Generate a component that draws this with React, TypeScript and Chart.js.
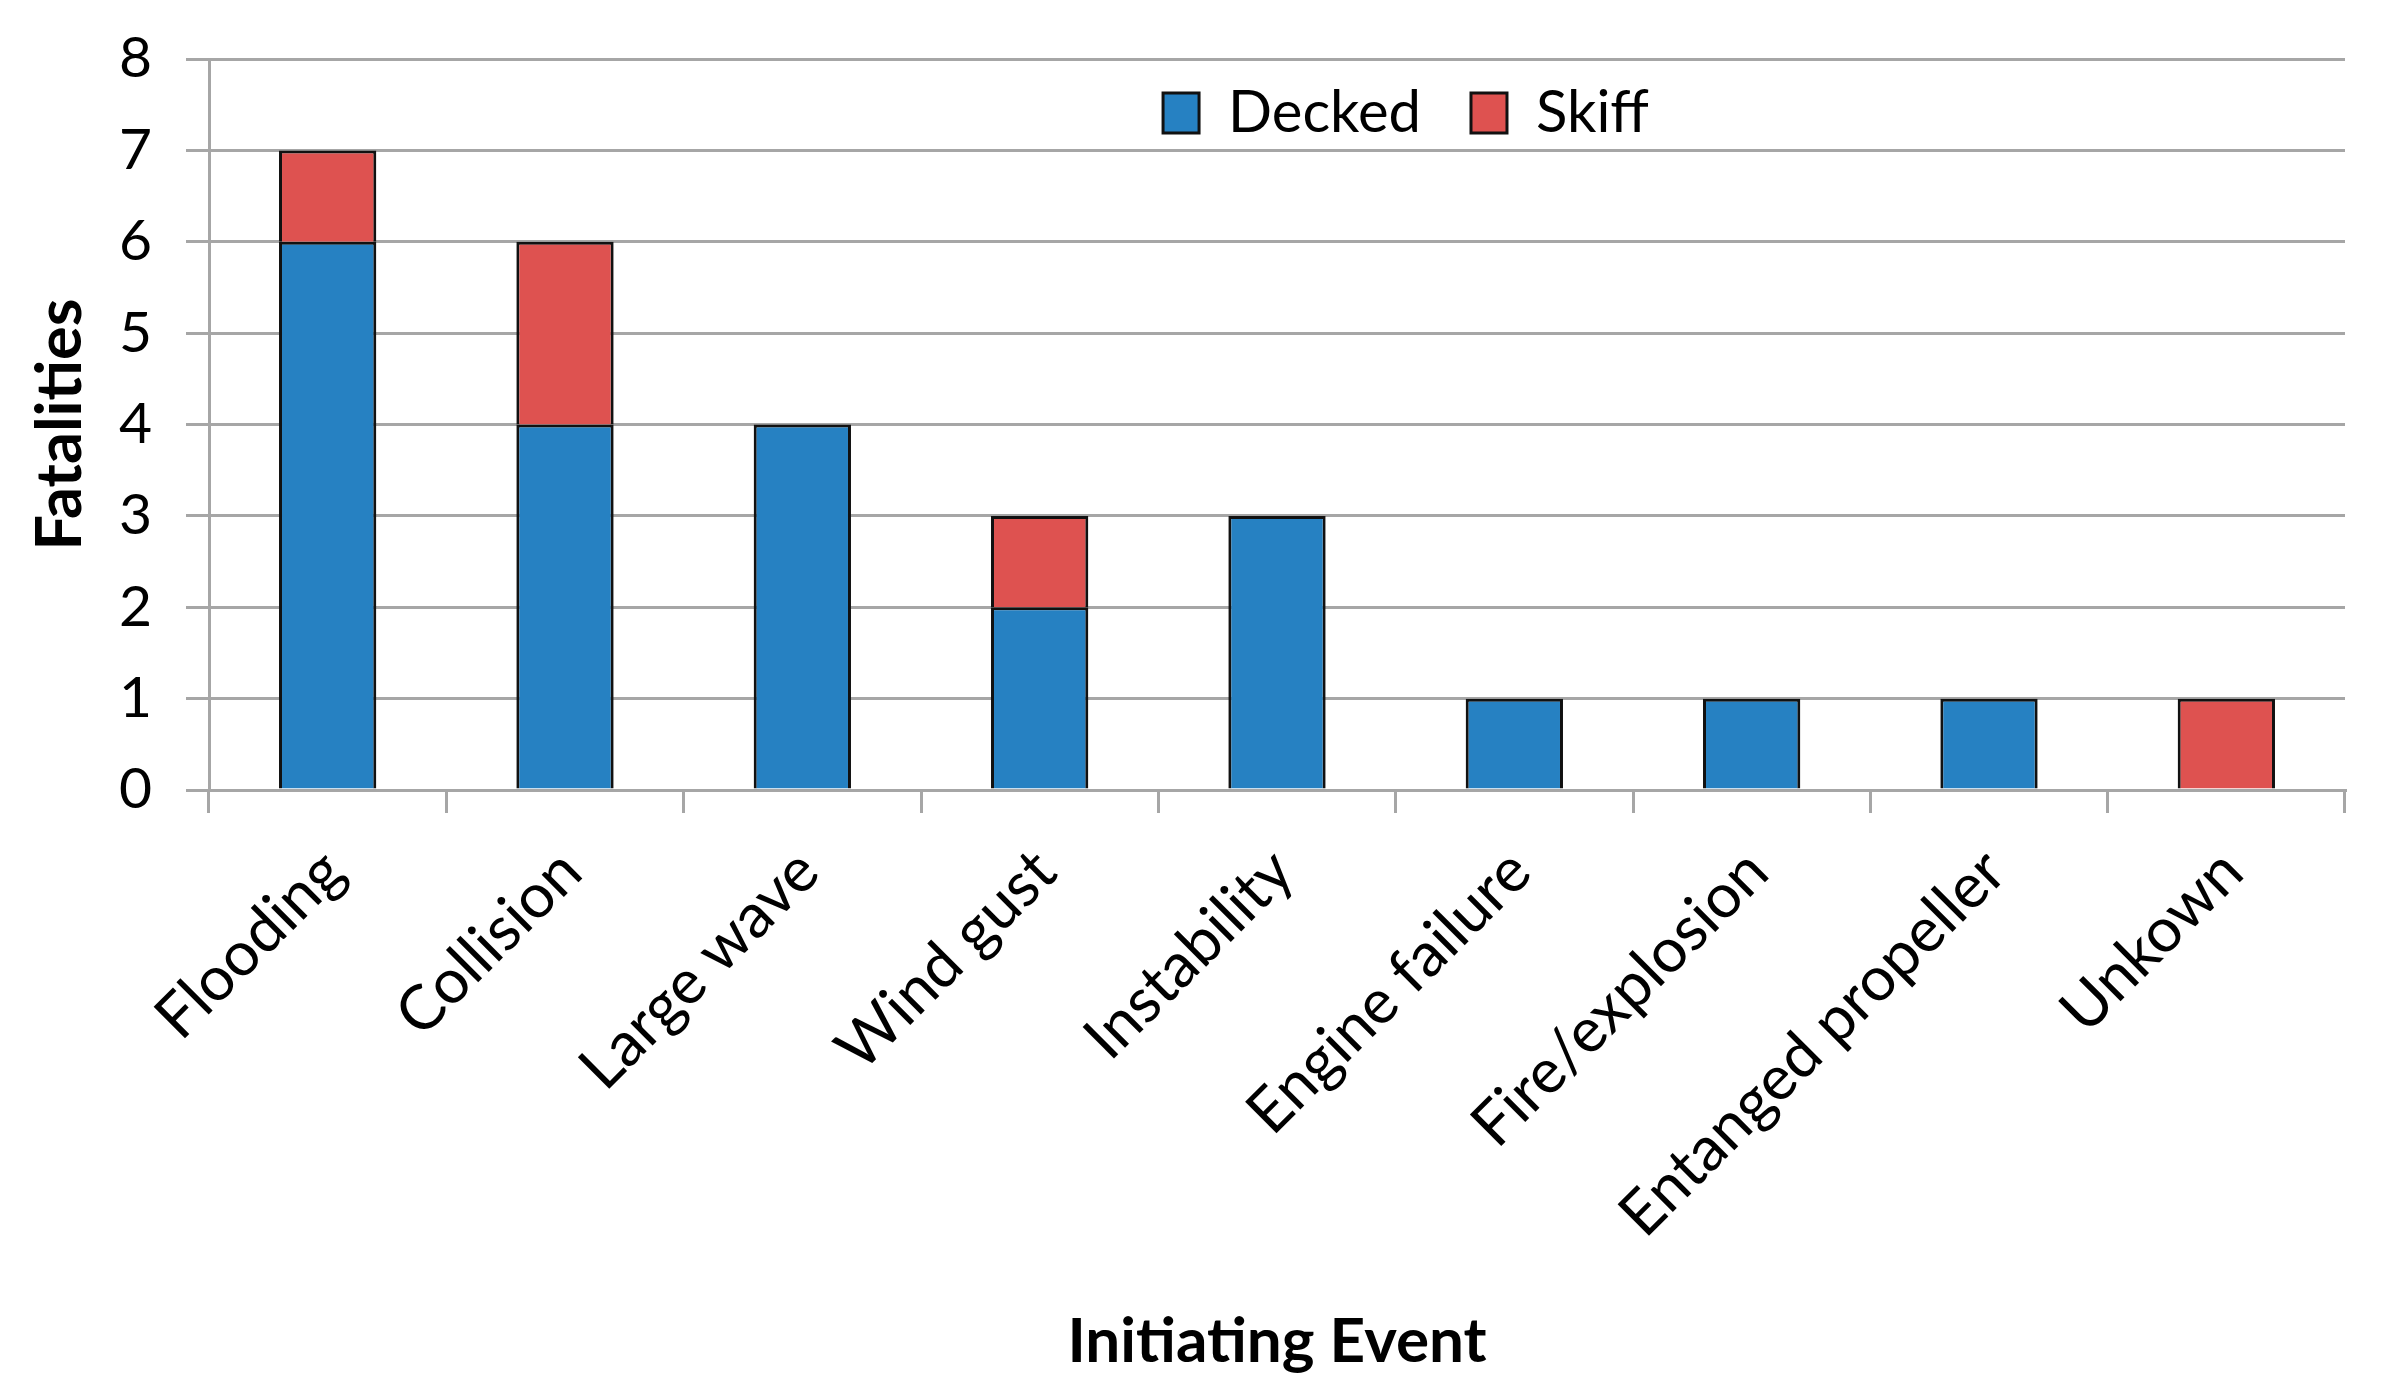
import React, { useEffect, useRef } from 'react';
import { Chart, registerables } from 'chart.js';

Chart.register(...registerables);

// ---- data ----
const categories = [
  'Flooding',
  'Collision',
  'Large wave',
  'Wind gust',
  'Instability',
  'Engine failure',
  'Fire/explosion',
  'Entanged propeller',
  'Unkown',
];
const deckedValues = [6, 4, 4, 2, 3, 1, 1, 1, 0];
const skiffValues = [1, 2, 0, 1, 0, 0, 0, 0, 1];
const yTickValues = [0, 1, 2, 3, 4, 5, 6, 7, 8];
const seriesNames = ['Decked', 'Skiff'];
const xTitle = 'Initiating Event';
const yTitle = 'Fatalities';

// ---- styles ----
const BLUE = '#2681C2';
const RED = '#DE5250';
const EDGE = '#111111';
const GRID = '#A6A6A6';
const FONT = 'Lato';

// Moves the Chart.js legend inside the plot area (row layout kept)
const legendPlacement = {
  id: 'legendPlacement',
  beforeLayout(chart: any) {
    const lg = chart.legend;
    if (lg && !lg.__patched) {
      const orig = lg.fit.bind(lg);
      lg.fit = function () {
        orig();
        lg.__realHeight = lg.height;
        lg.height = 0;
      };
      lg.__patched = true;
    }
  },
  afterLayout(chart: any, _args: any, opts: any) {
    const lg = chart.legend;
    if (!lg) return;
    const h = lg.__realHeight || 0;
    const cx = (lg.left + lg.right) / 2;
    const dx = opts.centerX - cx;
    lg.left += dx;
    lg.right += dx;
    lg.top = opts.top;
    lg.bottom = opts.top + h;
    lg.height = h;
    if (typeof lg.adjustHitBoxes === 'function') lg.adjustHitBoxes();
  },
};

export default function App() {
  const ref = useRef<HTMLCanvasElement>(null);

  useEffect(() => {
    let chart: Chart | null = null;
    let cancelled = false;

    const make = () => {
      if (cancelled || !ref.current) return;
      chart = new Chart(ref.current, {
        type: 'bar',
        data: {
          labels: categories,
          datasets: [
            {
              label: seriesNames[0],
              data: deckedValues,
              backgroundColor: BLUE,
              borderColor: EDGE,
              borderWidth: 3,
              borderSkipped: 'start',
              barPercentage: 0.41,
              categoryPercentage: 1,
              stack: 's',
            },
            {
              label: seriesNames[1],
              data: skiffValues,
              backgroundColor: RED,
              borderColor: EDGE,
              borderWidth: 3,
              borderSkipped: 'start',
              barPercentage: 0.41,
              categoryPercentage: 1,
              stack: 's',
            },
          ],
        },
        plugins: [legendPlacement as any],
        options: {
          responsive: false,
          animation: false,
          devicePixelRatio: 1,
          layout: { padding: { left: 0, right: 52, top: 59, bottom: 0 } },
          plugins: {
            tooltip: { enabled: false },
            legend: {
              display: true,
              position: 'top',
              align: 'center',
              labels: {
                font: { family: FONT, size: 58 },
                color: '#000',
                boxWidth: 36,
                boxHeight: 40,
                padding: 50,
              },
            },
            legendPlacement: { centerX: 1406, top: 34 },
          } as any,
          scales: {
            x: {
              stacked: true,
              offset: true,
              grid: {
                display: true,
                offset: true,
                drawOnChartArea: false,
                drawTicks: true,
                tickLength: 23,
                color: GRID,
                lineWidth: 3,
              },
              border: { display: true, color: GRID, width: 3 },
              ticks: {
                autoSkip: false,
                maxRotation: 45,
                minRotation: 45,
                padding: 22,
                labelOffset: 6,
                font: { family: FONT, size: 62 },
                color: '#000',
              },
              title: {
                display: true,
                text: xTitle,
                font: { family: FONT, size: 62, weight: 'bold' },
                color: '#000',
                padding: { top: 0, bottom: 21 },
              },
              afterFit: (s: any) => {
                s.height = 610;
              },
            },
            y: {
              stacked: true,
              min: yTickValues[0],
              max: yTickValues[yTickValues.length - 1],
              ticks: {
                stepSize: 1,
                padding: 34,
                font: { family: FONT, size: 57, lineHeight: 0.8 },
                color: '#000',
              },
              grid: {
                color: GRID,
                lineWidth: 3,
                drawTicks: true,
                tickLength: 23,
              },
              border: { display: true, color: GRID, width: 3 },
              title: {
                display: true,
                text: yTitle,
                font: { family: FONT, size: 63, weight: 'bold' },
                color: '#000',
                padding: { top: 23, bottom: 0 },
              },
              afterFit: (s: any) => {
                s.width = 209;
              },
            },
          },
        } as any,
      });
    };

    const fonts = (document as any).fonts;
    if (fonts && fonts.load) {
      Promise.all([fonts.load(`57px ${FONT}`), fonts.load(`bold 60px ${FONT}`)]).then(make, make);
    } else {
      make();
    }

    return () => {
      cancelled = true;
      if (chart) chart.destroy();
    };
  }, []);

  return (
    <div
      style={{
        position: 'absolute',
        left: 0,
        top: 0,
        width: 2397,
        height: 1400,
        background: '#fff',
      }}
    >
      <canvas
        ref={ref}
        width={2397}
        height={1400}
        style={{ display: 'block', width: 2397, height: 1400 }}
      />
    </div>
  );
}
